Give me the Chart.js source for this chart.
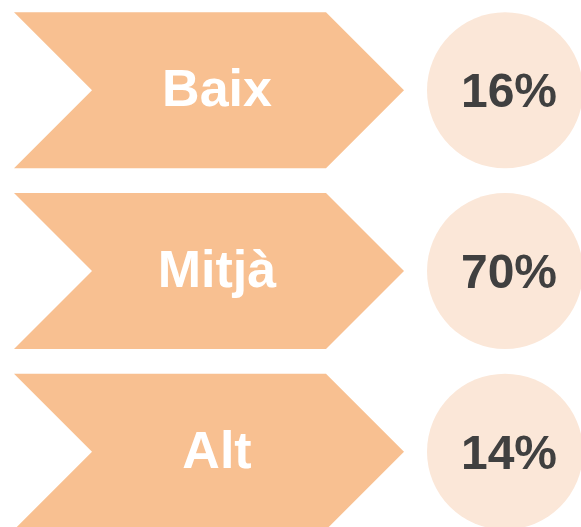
<!DOCTYPE html>
<html>
<head>
<meta charset="utf-8">
<script src="https://cdn.jsdelivr.net/npm/chart.js@4"></script>
<style>
  html, body { margin: 0; padding: 0; background: #fff; overflow: hidden; }
  #wrap { position: relative; width: 581px; height: 542px; }
</style>
</head>
<body>
<div id="wrap"><canvas id="chart"></canvas></div>
<script>
// 범주와 비율 데이터
const categories = ['Baix', 'Mitjà', 'Alt'];
const shares = [16, 70, 14];
const shareLabels = shares.map(v => `${v}%`);

const chevronColor = '#F8C091';
const circleColor = '#FBE7D8';
const textDark = '#404040';
const fontFamily = '"Liberation Sans", Arial, sans-serif';

// 막대를 화살표(쉐브론) 모양으로 그리고 라벨을 얹는 플러그인
const chevronPlugin = {
    id: 'chevron',
    beforeDatasetDraw(chart, args) {
        if (args.index !== 0) return;
        const ctx = chart.ctx;
        args.meta.data.forEach((bar, i) => {
            const left = Math.min(bar.base, bar.x);
            const right = Math.max(bar.base, bar.x);
            const top = bar.y - bar.height / 2;
            const bottom = bar.y + bar.height / 2;
            const d = bar.height / 2;

            ctx.save();
            ctx.beginPath();
            ctx.moveTo(left, top);
            ctx.lineTo(right - d, top);
            ctx.lineTo(right, bar.y);
            ctx.lineTo(right - d, bottom);
            ctx.lineTo(left, bottom);
            ctx.lineTo(left + d, bar.y);
            ctx.closePath();
            ctx.fillStyle = chevronColor;
            ctx.fill();

            ctx.fillStyle = '#fff';
            ctx.font = `bold 52px ${fontFamily}`;
            ctx.textAlign = 'center';
            ctx.textBaseline = 'alphabetic';
            ctx.fillText(categories[i], (left + right) / 2 + 8, bar.y + 16);
            ctx.restore();
        });
        return false; // 기본 사각형 막대는 그리지 않음
    },
    afterDatasetsDraw(chart) {
        const ctx = chart.ctx;
        const meta = chart.getDatasetMeta(1);
        ctx.save();
        ctx.fillStyle = textDark;
        ctx.font = `bold 48px ${fontFamily}`;
        ctx.textAlign = 'center';
        ctx.textBaseline = 'alphabetic';
        meta.data.forEach((pt, i) => {
            ctx.fillText(shareLabels[i], pt.x + 4, pt.y + 17);
        });
        ctx.restore();
    }
};

new Chart(document.getElementById('chart'), {
    type: 'bar',
    data: {
        labels: categories,
        datasets: [
            {
                type: 'bar',
                data: categories.map(() => [14, 404]),
                backgroundColor: chevronColor,
                barThickness: 156
            },
            {
                type: 'bubble',
                data: categories.map(c => ({ x: 505, y: c, r: 78 })),
                backgroundColor: circleColor,
                borderWidth: 0,
                hoverRadius: 0,
                clip: false
            }
        ]
    },
    options: {
        indexAxis: 'y',
        responsive: true,
        maintainAspectRatio: false,
        animation: false,
        layout: { padding: 0, autoPadding: false },
        scales: {
            x: { type: 'linear', min: 0, max: 581, display: false },
            y: { type: 'category', offset: true, display: false }
        },
        plugins: {
            legend: { display: false },
            tooltip: { enabled: false }
        }
    },
    plugins: [chevronPlugin]
});
</script>
</body>
</html>
